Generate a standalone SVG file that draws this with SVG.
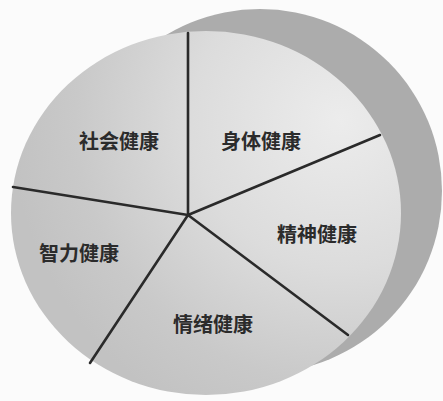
<svg xmlns="http://www.w3.org/2000/svg" width="443" height="401" viewBox="0 0 443 401">
  <defs>
    <radialGradient id="disk" cx="340" cy="120" r="330" gradientUnits="userSpaceOnUse">
      <stop offset="0" stop-color="#ececec"/>
      <stop offset="0.45" stop-color="#dcdcdc"/>
      <stop offset="0.8" stop-color="#c9c9c9"/>
      <stop offset="1" stop-color="#c2c2c2"/>
    </radialGradient>
    <style>
      .lbl { font-family: "Noto Sans CJK SC", "Noto Sans", sans-serif; font-size: 20px; font-weight: bold; fill: #2b2b2b; text-anchor: middle; dominant-baseline: central; }
      .spoke { stroke: #2a2a2a; stroke-width: 2.6; stroke-linecap: round; fill: none; }
    </style>
  </defs>
  <rect width="443" height="401" fill="#fbfbfb"/>
  <g id="shadow">
    <circle cx="260" cy="191" r="182" fill="#acacac"/>
  </g>
  <g id="disk-body">
    <ellipse cx="206" cy="213" rx="195" ry="182" fill="url(#disk)"/>
  </g>
  <g id="connectors">
    <line class="spoke" x1="188" y1="215" x2="188" y2="33"/>
    <line class="spoke" x1="188" y1="215" x2="380" y2="135"/>
    <line class="spoke" x1="188" y1="215" x2="348" y2="335"/>
    <line class="spoke" x1="188" y1="215" x2="90" y2="363"/>
    <line class="spoke" x1="188" y1="215" x2="13" y2="187"/>
  </g>
  <g id="social"><text class="lbl" x="119" y="140">社会健康</text></g>
  <g id="physical"><text class="lbl" x="261" y="140">身体健康</text></g>
  <g id="spiritual"><text class="lbl" x="317" y="233">精神健康</text></g>
  <g id="intellectual"><text class="lbl" x="79" y="252">智力健康</text></g>
  <g id="emotional"><text class="lbl" x="213" y="323">情绪健康</text></g>
</svg>
